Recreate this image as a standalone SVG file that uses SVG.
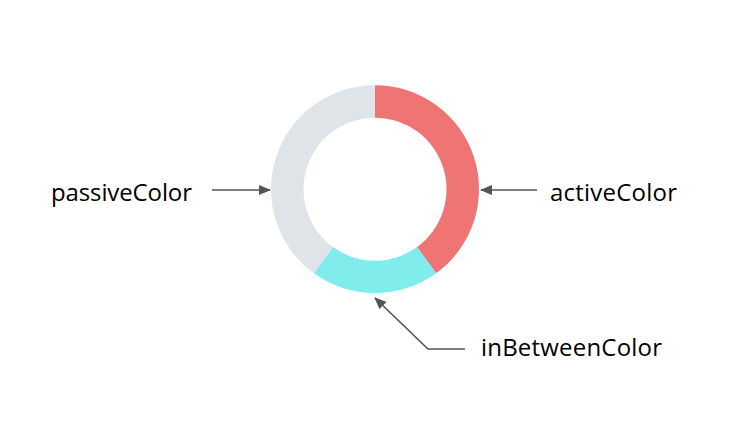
<svg xmlns="http://www.w3.org/2000/svg" width="732" height="424" viewBox="0 0 732 424">
<style>
.lbl{font-family:"Open Sans","Noto Sans",sans-serif;font-size:24px;fill:#000}
.conn{stroke:#555;stroke-width:1.6;fill:none}
</style>
<defs>
<marker id="ah" markerWidth="12" markerHeight="10" refX="11" refY="5" orient="auto" markerUnits="userSpaceOnUse">
<path d="M0,0 L12,5 L0,10 Z" fill="#555"/>
</marker>
</defs>
<rect width="732" height="424" fill="#fff"/>
<g id="donut">
<path id="active" d="M375,85.2 A104,104 0 0 1 436.13,273.34 L417.03,247.04 A71.5,71.5 0 0 0 375,117.7 Z" fill="#EF7474"/>
<path id="inbetween" d="M436.13,273.34 A104,104 0 0 1 313.87,273.34 L332.97,247.04 A71.5,71.5 0 0 0 417.03,247.04 Z" fill="#80EDEC"/>
<path id="passive" d="M313.87,273.34 A104,104 0 0 1 375,85.2 L375,117.7 A71.5,71.5 0 0 0 332.97,247.04 Z" fill="#DEE4E7"/>
</g>
<g id="label-passive"><text class="lbl" x="51" y="201" textLength="141">passiveColor</text></g>
<g id="label-active"><text class="lbl" x="550" y="201" textLength="127">activeColor</text></g>
<g id="label-inbetween"><text class="lbl" x="481" y="356" textLength="181">inBetweenColor</text></g>
<g id="connectors">
<line class="conn" x1="212" y1="190" x2="270" y2="190" marker-end="url(#ah)"/>
<line class="conn" x1="537" y1="190" x2="481" y2="190" marker-end="url(#ah)"/>
<polyline class="conn" points="465,349 428,349 375,298" marker-end="url(#ah)"/>
</g>
</svg>
